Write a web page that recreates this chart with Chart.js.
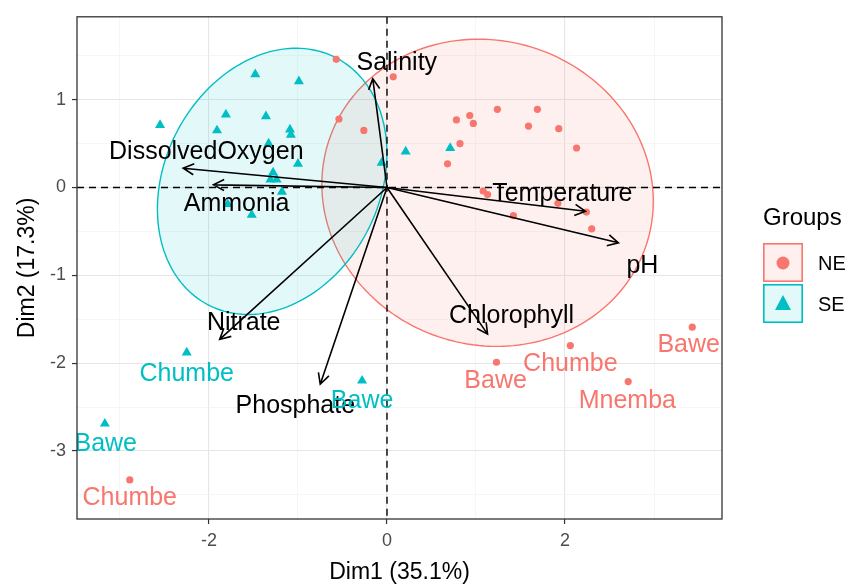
<!DOCTYPE html>
<html>
<head>
<meta charset="utf-8">
<script src="https://cdn.jsdelivr.net/npm/chart.js@4.4.1/dist/chart.umd.min.js"></script>
<style>
  html, body { margin: 0; padding: 0; background: #fff; }
  #wrap { width: 854px; height: 586px; }
</style>
</head>
<body>
<div id="wrap"><canvas id="pca"></canvas></div>
<script>
// PCA biplot - individuals by group, variable arrows, confidence ellipses
var FONT = '"Liberation Sans", Arial, sans-serif';
var RED = "#F8766D", TEAL = "#00BFC4";

// individuals (Dim1, Dim2)
var neX = [-0.57, 0.07, -0.54, -0.26, 0.78, 0.93, 0.97, 1.24, 1.69, 1.59, 1.93, 2.13, 0.82, 0.68, 1.08, 1.13, 1.92, 2.24, 1.42, 2.30, 3.43, 2.06, 1.23, 2.71, -2.89];
var neY = [1.46, 1.26, 0.78, 0.65, 0.77, 0.82, 0.73, 0.89, 0.89, 0.70, 0.67, 0.45, 0.50, 0.27, -0.04, -0.08, -0.18, -0.28, -0.32, -0.47, -1.59, -1.80, -1.99, -2.21, -3.33];
var seX = [-2.55, -1.48, -0.99, -1.81, -1.36, -1.91, -1.09, -1.08, -1.33, -1.00, -1.28, -1.31, -1.24, -1.18, -1.79, -1.52, -0.06, 0.21, 0.71, -2.25, -3.17, -0.28];
var seY = [0.71, 1.29, 1.21, 0.83, 0.81, 0.65, 0.66, 0.60, 0.50, 0.27, 0.17, 0.09, 0.09, -0.05, -0.19, -0.31, 0.28, 0.41, 0.45, -1.88, -2.69, -2.20];

// variables (arrow tips and label anchors)
var varNames = ["Salinity", "DissolvedOxygen", "Ammonia", "Temperature", "pH", "Chlorophyll", "Nitrate", "Phosphate"];
var varX = [-0.16, -2.29, -1.95, 2.23, 2.60, 1.13, -1.88, -0.75];
var varY = [1.24, 0.22, 0.03, -0.27, -0.63, -1.67, -1.73, -2.24];
var varLabX = [0.11, -2.03, -1.69, 1.97, 2.87, 1.40, -1.61, -1.03];
var varLabY = [1.42, 0.40, -0.19, -0.08, -0.89, -1.46, -1.54, -2.49];

// labelled sites
var neSites = ["Bawe", "Chumbe", "Bawe", "Mnemba", "Chumbe"];
var neSiteX = [3.39, 2.06, 1.22, 2.70, -2.89];
var neSiteY = [-1.80, -2.01, -2.21, -2.43, -3.54];
var seSites = ["Chumbe", "Bawe", "Bawe"];
var seSiteX = [-2.25, -3.16, -0.28];
var seSiteY = [-2.13, -2.92, -2.43];

// group ellipses (centre, semi axes, angle in degrees)
var groups = ["NE", "SE"];
var ellCx = [1.13, -1.29];
var ellCy = [-0.06, 0.07];
var ellA = [1.88, 1.58];
var ellB = [1.73, 1.21];
var ellAngle = [-20.6, 64];

var xTicks = [-3, -2, -1, 0, 1, 2, 3];
var xLabels = [-2, 0, 2];
var yTicks = [-3.5, -3, -2.5, -2, -1.5, -1, -0.5, 0, 0.5, 1, 1.5];
var yLabels = [-3, -2, -1, 0, 1];

function pts(xs, ys) {
  var out = [];
  for (var i = 0; i < xs.length; i++) out.push({ x: xs[i], y: ys[i] });
  return out;
}
function alpha(hex, a) {
  var n = parseInt(hex.slice(1), 16);
  return "rgba(" + (n >> 16) + "," + ((n >> 8) & 255) + "," + (n & 255) + "," + a + ")";
}

var groupColors = [RED, TEAL];

var biplot = {
  id: "biplot",
  beforeDatasetsDraw: function(chart) {
    var ctx = chart.ctx, xs = chart.scales.x, ys = chart.scales.y, ca = chart.chartArea;
    ctx.save();
    ctx.beginPath();
    ctx.rect(ca.left, ca.top, ca.right - ca.left, ca.bottom - ca.top);
    ctx.clip();
    // ellipses
    for (var g = 0; g < groups.length; g++) {
      var th = ellAngle[g] * Math.PI / 180;
      ctx.beginPath();
      for (var k = 0; k <= 180; k++) {
        var t = k / 180 * 2 * Math.PI;
        var ex = ellCx[g] + ellA[g] * Math.cos(th) * Math.cos(t) - ellB[g] * Math.sin(th) * Math.sin(t);
        var ey = ellCy[g] + ellA[g] * Math.sin(th) * Math.cos(t) + ellB[g] * Math.cos(th) * Math.sin(t);
        var px = xs.getPixelForValue(ex), py = ys.getPixelForValue(ey);
        if (k === 0) ctx.moveTo(px, py); else ctx.lineTo(px, py);
      }
      ctx.closePath();
      ctx.fillStyle = alpha(groupColors[g], 0.11);
      ctx.fill();
      ctx.strokeStyle = groupColors[g];
      ctx.lineWidth = 1.4;
      ctx.stroke();
    }
    // dashed zero lines
    ctx.setLineDash([7, 5]);
    ctx.strokeStyle = "#000";
    ctx.lineWidth = 1.4;
    var x0 = xs.getPixelForValue(0), y0 = ys.getPixelForValue(0);
    ctx.beginPath();
    ctx.moveTo(x0, ca.top); ctx.lineTo(x0, ca.bottom);
    ctx.moveTo(ca.left, y0); ctx.lineTo(ca.right, y0);
    ctx.stroke();
    ctx.restore();
  },
  afterDatasetsDraw: function(chart) {
    var ctx = chart.ctx, xs = chart.scales.x, ys = chart.scales.y, ca = chart.chartArea;
    ctx.save();
    ctx.beginPath();
    ctx.rect(ca.left, ca.top, ca.right - ca.left, ca.bottom - ca.top);
    ctx.clip();
    var ox = xs.getPixelForValue(0), oy = ys.getPixelForValue(0);
    ctx.strokeStyle = "#000";
    ctx.lineWidth = 1.6;
    for (var i = 0; i < varNames.length; i++) {
      var tx = xs.getPixelForValue(varX[i]), ty = ys.getPixelForValue(varY[i]);
      var ang = Math.atan2(ty - oy, tx - ox), h = 12, w = 0.48;
      ctx.beginPath();
      ctx.moveTo(ox, oy); ctx.lineTo(tx, ty);
      ctx.moveTo(tx - h * Math.cos(ang - w), ty - h * Math.sin(ang - w));
      ctx.lineTo(tx, ty);
      ctx.lineTo(tx - h * Math.cos(ang + w), ty - h * Math.sin(ang + w));
      ctx.stroke();
    }
    ctx.textAlign = "center";
    ctx.textBaseline = "middle";
    ctx.font = "25px " + FONT;
    ctx.fillStyle = "#000";
    for (i = 0; i < varNames.length; i++) {
      ctx.fillText(varNames[i], xs.getPixelForValue(varLabX[i]), ys.getPixelForValue(varLabY[i]));
    }
    ctx.fillStyle = RED;
    for (i = 0; i < neSites.length; i++) {
      ctx.fillText(neSites[i], xs.getPixelForValue(neSiteX[i]), ys.getPixelForValue(neSiteY[i]));
    }
    ctx.fillStyle = TEAL;
    for (i = 0; i < seSites.length; i++) {
      ctx.fillText(seSites[i], xs.getPixelForValue(seSiteX[i]), ys.getPixelForValue(seSiteY[i]));
    }
    ctx.restore();
  },
  afterDraw: function(chart) {
    var ctx = chart.ctx, ca = chart.chartArea;
    ctx.save();
    ctx.strokeStyle = "#333333";
    ctx.lineWidth = 1.3;
    ctx.strokeRect(ca.left, ca.top, ca.right - ca.left, ca.bottom - ca.top);
    // legend
    var lx = ca.right + 41;
    ctx.fillStyle = "#000";
    ctx.font = "24px " + FONT;
    ctx.textAlign = "left";
    ctx.textBaseline = "middle";
    ctx.fillText("Groups", lx, 218);
    for (var g = 0; g < groups.length; g++) {
      var by = 243 + g * 41;
      ctx.fillStyle = "#fff";
      ctx.fillRect(lx, by, 40, 39);
      ctx.fillStyle = alpha(groupColors[g], 0.11);
      ctx.fillRect(lx, by, 40, 39);
      ctx.strokeStyle = groupColors[g];
      ctx.lineWidth = 1.6;
      ctx.strokeRect(lx + 0.8, by + 0.8, 38.4, 37.4);
      ctx.fillStyle = groupColors[g];
      var cx = lx + 20, cy = by + 20;
      ctx.beginPath();
      if (g === 0) {
        ctx.arc(cx, cy, 6.5, 0, 2 * Math.PI);
      } else {
        ctx.moveTo(cx, cy - 9); ctx.lineTo(cx + 8, cy + 6); ctx.lineTo(cx - 8, cy + 6); ctx.closePath();
      }
      ctx.fill();
      ctx.fillStyle = "#000";
      ctx.font = "20px " + FONT;
      ctx.fillText(groups[g], lx + 55, cy + 1);
    }
    ctx.restore();
  }
};

function gridColor(majors) {
  return function(c) { return c.tick && majors.indexOf(c.tick.value) >= 0 ? "#E6E6E6" : "#F0F0F0"; };
}
function gridWidth(majors) {
  return function(c) { return c.tick && majors.indexOf(c.tick.value) >= 0 ? 1.1 : 0.6; };
}
function tickColor(majors) {
  return function(c) { return c.tick && majors.indexOf(c.tick.value) >= 0 ? "#333333" : "rgba(0,0,0,0)"; };
}

new Chart(document.getElementById("pca"), {
  type: "scatter",
  data: {
    datasets: [
      { label: "NE", data: pts(neX, neY), pointStyle: "circle", pointRadius: 3.6, backgroundColor: RED, borderWidth: 0 },
      { label: "SE", data: pts(seX, seY), pointStyle: "triangle", pointRadius: 5.8, backgroundColor: TEAL, borderWidth: 0 }
    ]
  },
  options: {
    responsive: true,
    maintainAspectRatio: false,
    animation: false,
    layout: { padding: { top: 10, right: 132, left: 0, bottom: 0 } },
    plugins: { legend: { display: false }, tooltip: { enabled: false } },
    scales: {
      x: {
        type: "linear", min: -3.483, max: 3.764,
        afterBuildTicks: function(s) { s.ticks = xTicks.map(function(v) { return { value: v }; }); },
        afterFit: function(s) { s.height = 67; },
        border: { display: false },
        grid: { color: gridColor(xLabels), lineWidth: gridWidth(xLabels), tickColor: tickColor(xLabels), tickLength: 5, tickWidth: 1.2 },
        ticks: {
          color: "#4D4D4D", font: { family: FONT, size: 18 }, padding: 6, autoSkip: false, maxRotation: 0,
          callback: function(v) { return xLabels.indexOf(v) >= 0 ? String(v) : ""; }
        },
        title: { display: true, text: "Dim1 (35.1%)", color: "#000", font: { family: FONT, size: 23 }, padding: { top: 0, bottom: 0 } }
      },
      y: {
        type: "linear", min: -3.775, max: 1.944,
        afterBuildTicks: function(s) { s.ticks = yTicks.map(function(v) { return { value: v }; }); },
        afterFit: function(s) { s.width = 77; },
        border: { display: false },
        grid: { color: gridColor(yLabels), lineWidth: gridWidth(yLabels), tickColor: tickColor(yLabels), tickLength: 5, tickWidth: 1.2 },
        ticks: {
          color: "#4D4D4D", font: { family: FONT, size: 18 }, padding: 6, autoSkip: false,
          callback: function(v) { return yLabels.indexOf(v) >= 0 ? String(v) : ""; }
        },
        title: { display: true, text: "Dim2 (17.3%)", color: "#000", font: { family: FONT, size: 23 }, padding: { top: 14, bottom: 0 } }
      }
    }
  },
  plugins: [biplot]
});
</script>
</body>
</html>
